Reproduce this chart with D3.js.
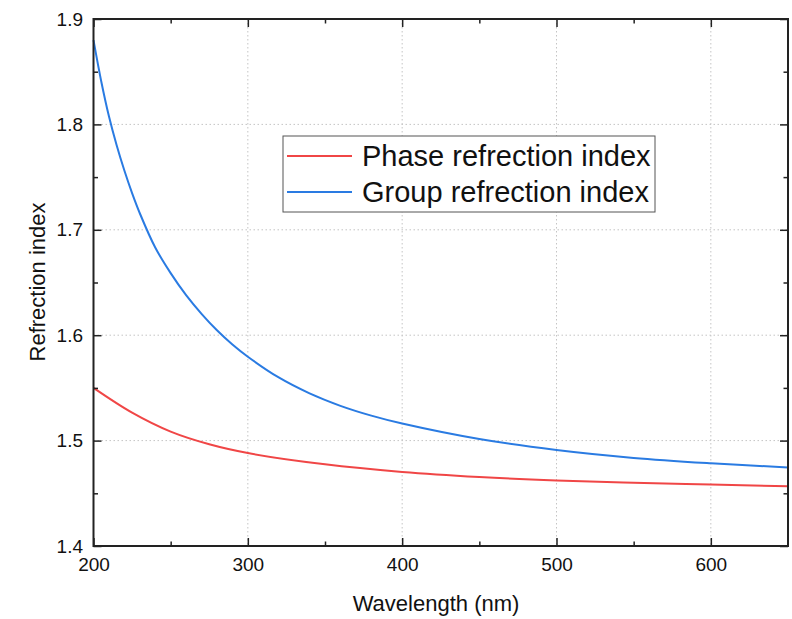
<!DOCTYPE html>
<html>
  <head>
    <meta charset="utf-8" />
    <title>Refrection index</title>
    <script src="https://cdn.jsdelivr.net/npm/d3@7"></script>
    <style type="text/css">
      body { margin: 0; background: #fff; }
      svg text { font-family: 'Liberation Sans', Arial, Helvetica, sans-serif; fill: #111; }
    </style>
  </head>

  <body>
    <svg id="chart" width="792" height="619"></svg>
    <script type="text/javascript">
      // values
      var phaseWl = [200, 225, 250, 275, 300, 350, 400, 450, 500, 550, 600, 650];
      var phaseN = [1.5500, 1.5265, 1.5085, 1.4965, 1.4882, 1.4775, 1.4703, 1.4655, 1.4622, 1.4600, 1.4583, 1.4566];

      var groupWl = [200, 205, 210, 215, 220, 225, 230, 240, 250, 260, 270, 280, 290, 300, 320, 340, 360, 380, 400, 450, 500, 550, 600, 650];
      var groupN = [1.8800, 1.8410, 1.8077, 1.7802, 1.7562, 1.7348, 1.7157, 1.6832, 1.6589, 1.6380, 1.6203, 1.6047,
        1.5912, 1.5796, 1.5599, 1.5448, 1.5330, 1.5237, 1.5162, 1.5015, 1.4911, 1.4836, 1.4785, 1.4745];

      var xMajor = [200, 300, 400, 500, 600];
      var xMinor = [250, 350, 450, 550];
      var yMajor = [1.4, 1.5, 1.6, 1.7, 1.8, 1.9];
      var yMinor = [1.45, 1.55, 1.65, 1.75, 1.85];

      var seriesNames = ['Phase refrection index', 'Group refrection index'];
      var seriesColors = ['#f04646', '#2a7be2'];

      (function () {
        var svg = d3.select('#chart');
        var pL = 93.5, pR = 788, pT = 19, pB = 546;

        var scX = d3.scaleLinear().domain([200, 650]).range([pL, pR]);
        var scY = d3.scaleLinear().domain([1.4, 1.9]).range([pB, pT]);

        // grid lines (dotted)
        var grid = svg.append('g');
        grid.selectAll('line.gx')
          .data(xMajor.filter((d) => d > 200))
          .enter().append('line')
          .attr('x1', (d) => scX(d)).attr('x2', (d) => scX(d))
          .attr('y1', pT).attr('y2', pB);
        grid.selectAll('line.gy')
          .data(yMajor.filter((d) => d > 1.4 && d < 1.9))
          .enter().append('line')
          .attr('x1', pL).attr('x2', pR)
          .attr('y1', (d) => scY(d)).attr('y2', (d) => scY(d));
        grid.selectAll('line')
          .attr('stroke', '#c4c4c4')
          .attr('stroke-width', 1)
          .attr('stroke-dasharray', '1.5,2.5');

        // curves
        var lnMkr = function (wl) {
          return d3.line()
            .curve(d3.curveCatmullRom.alpha(0.5))
            .x((d, i) => scX(wl[i]))
            .y((d) => scY(d));
        };
        svg.append('path')
          .attr('fill', 'none')
          .attr('stroke', seriesColors[0])
          .attr('stroke-width', 2)
          .attr('d', lnMkr(phaseWl)(phaseN));
        svg.append('path')
          .attr('fill', 'none')
          .attr('stroke', seriesColors[1])
          .attr('stroke-width', 2)
          .attr('d', lnMkr(groupWl)(groupN));

        // axes, ticks point inward
        var axisStyle = function (g) {
          g.select('.domain').remove();
          g.selectAll('.tick line').attr('stroke', '#222').attr('stroke-width', 1.5);
          g.selectAll('text').attr('font-size', 19).attr('fill', '#111');
        };

        svg.append('g')
          .attr('transform', 'translate(0,' + pB + ')')
          .call(d3.axisBottom(scX).tickValues(xMajor).tickSizeInner(-8).tickSizeOuter(0).tickPadding(11.5).tickFormat(d3.format('d')))
          .call(axisStyle);
        svg.append('g')
          .attr('transform', 'translate(0,' + pB + ')')
          .call(d3.axisBottom(scX).tickValues(xMinor).tickSizeInner(-4.5).tickSizeOuter(0).tickFormat(''))
          .call(axisStyle);
        svg.append('g')
          .attr('transform', 'translate(0,' + pT + ')')
          .call(d3.axisTop(scX).tickValues(xMajor).tickSizeInner(-8).tickSizeOuter(0).tickFormat(''))
          .call(axisStyle);
        svg.append('g')
          .attr('transform', 'translate(0,' + pT + ')')
          .call(d3.axisTop(scX).tickValues(xMinor).tickSizeInner(-4.5).tickSizeOuter(0).tickFormat(''))
          .call(axisStyle);

        svg.append('g')
          .attr('transform', 'translate(' + pL + ',0)')
          .call(d3.axisLeft(scY).tickValues(yMajor).tickSizeInner(-8).tickSizeOuter(0).tickPadding(10.5).tickFormat(d3.format('.1f')))
          .call(axisStyle);
        svg.append('g')
          .attr('transform', 'translate(' + pL + ',0)')
          .call(d3.axisLeft(scY).tickValues(yMinor).tickSizeInner(-4.5).tickSizeOuter(0).tickFormat(''))
          .call(axisStyle);
        svg.append('g')
          .attr('transform', 'translate(' + pR + ',0)')
          .call(d3.axisRight(scY).tickValues(yMajor).tickSizeInner(-8).tickSizeOuter(0).tickFormat(''))
          .call(axisStyle);
        svg.append('g')
          .attr('transform', 'translate(' + pR + ',0)')
          .call(d3.axisRight(scY).tickValues(yMinor).tickSizeInner(-4.5).tickSizeOuter(0).tickFormat(''))
          .call(axisStyle);

        // frame
        svg.append('rect')
          .attr('x', pL).attr('y', pT)
          .attr('width', pR - pL).attr('height', pB - pT)
          .attr('fill', 'none')
          .attr('stroke', '#222')
          .attr('stroke-width', 2);

        // axis titles
        svg.append('text')
          .attr('x', 436).attr('y', 611)
          .attr('text-anchor', 'middle')
          .attr('font-size', 22)
          .text('Wavelength (nm)');
        svg.append('text')
          .attr('transform', 'translate(45,282) rotate(-90)')
          .attr('text-anchor', 'middle')
          .attr('font-size', 22)
          .text('Refrection index');

        // legend
        var lg = svg.append('g');
        lg.append('rect')
          .attr('x', 283).attr('y', 136)
          .attr('width', 372).attr('height', 76)
          .attr('fill', '#fff')
          .attr('stroke', '#555')
          .attr('stroke-width', 1);
        var rows = lg.selectAll('g.row')
          .data(seriesNames)
          .enter().append('g')
          .attr('transform', (d, i) => 'translate(0,' + (156 + i * 36) + ')');
        rows.append('line')
          .attr('x1', 287).attr('x2', 352)
          .attr('y1', 0).attr('y2', 0)
          .attr('stroke', (d, i) => seriesColors[i])
          .attr('stroke-width', 2);
        rows.append('text')
          .attr('x', 362).attr('y', 10)
          .attr('font-size', 29)
          .text((d) => d);
      })();
    </script>
  </body>
</html>
